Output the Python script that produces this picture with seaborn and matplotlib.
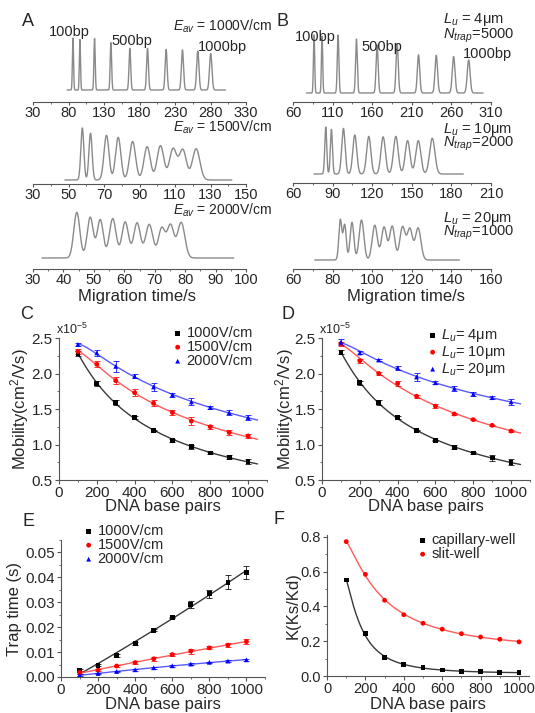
import numpy as np
import pandas as pd
import seaborn as sns
import matplotlib
matplotlib.use("Agg")
import matplotlib.pyplot as plt
from matplotlib.ticker import MultipleLocator, FixedLocator, FormatStrFormatter

W, H = 535, 713

# --- A: electropherograms at different fields (peak centre s, rel. height, width s) ---
a1_pos = [86.3, 96.1, 116.7, 139.7, 166.4, 191.3, 217.5, 240.5, 262.1, 280.3]
a1_amp = [1.0, 0.97, 0.99, 0.91, 0.80, 0.80, 0.78, 0.77, 0.75, 0.70]
a1_sig = [0.8, 0.8, 0.9, 1.0, 1.2, 1.3, 1.4, 1.5, 1.6, 1.7]
a2_pos = [57.8, 62.4, 71.4, 78.0, 86.1, 94.3, 101.8, 108.9, 114.4, 121.9]
a2_amp = [1.0, 0.90, 0.86, 0.82, 0.74, 0.64, 0.66, 0.60, 0.58, 0.60]
a2_sig = [0.85, 0.9, 1.4, 1.5, 1.7, 1.8, 1.9, 2.0, 2.0, 2.1]
a3_pos = [44.4, 48.8, 52.1, 56.2, 60.3, 64.2, 68.2, 72.3, 75.2, 78.7]
a3_amp = [0.95, 0.85, 0.80, 0.82, 0.75, 0.73, 0.70, 0.62, 0.68, 0.74]
a3_sig = [1.0, 1.0, 1.0, 1.1, 1.1, 1.1, 1.2, 1.1, 1.1, 1.2]
a_range = [(78, 301), (48, 142), (33, 96)]
a_fields = ["1000", "1500", "2000"]

# --- B: electropherograms at different trap lengths ---
b1_pos = [86.6, 96.7, 116.9, 140.1, 166.2, 191.5, 218.5, 240.9, 262.8, 281.8]
b1_amp = [1.0, 0.98, 1.0, 0.93, 0.83, 0.85, 0.66, 0.65, 0.63, 0.57]
b1_sig = [0.8, 0.8, 1.0, 1.1, 1.3, 1.4, 1.5, 1.6, 1.7, 1.8]
b2_pos = [84.8, 89.1, 98.2, 106.8, 117.4, 128.3, 137.9, 146.8, 154.9, 165.5]
b2_amp = [1.0, 0.95, 0.97, 0.83, 0.80, 0.79, 0.80, 0.71, 0.71, 0.76]
b2_sig = [0.75, 0.8, 1.3, 1.5, 1.6, 1.7, 1.8, 1.8, 1.9, 2.0]
b3_pos = [83.9, 86.1, 89.8, 94.6, 101.3, 106.0, 110.1, 115.3, 119.0, 123.2]
b3_amp = [0.85, 0.75, 0.80, 0.85, 0.74, 0.70, 0.72, 0.70, 0.66, 0.68]
b3_sig = [0.75, 0.8, 0.95, 1.2, 1.3, 1.3, 1.3, 1.35, 1.35, 1.4]
b_range = [(77, 300), (76, 189), (71, 144)]
b_lu = ["4", "10", "20"]
b_ntrap = ["5000", "2000", "1000"]

# --- C-F: DNA size dependence ---
bp = [100, 200, 300, 400, 500, 600, 700, 800, 900, 1000]

c_1000 = [2.28, 1.86, 1.59, 1.38, 1.20, 1.06, 0.97, 0.88, 0.82, 0.76]
c_1000_err = [0.03, 0.03, 0.03, 0.02, 0.01, 0.02, 0.03, 0.02, 0.03, 0.03]
c_1500 = [2.31, 2.13, 1.90, 1.73, 1.58, 1.45, 1.33, 1.25, 1.17, 1.12]
c_1500_err = [0.03, 0.04, 0.05, 0.05, 0.04, 0.04, 0.06, 0.03, 0.03, 0.03]
c_2000 = [2.41, 2.29, 2.10, 1.96, 1.81, 1.70, 1.60, 1.52, 1.45, 1.38]
c_2000_err = [0.02, 0.04, 0.08, 0.03, 0.05, 0.03, 0.05, 0.02, 0.03, 0.03]

d_4 = [2.30, 1.87, 1.59, 1.38, 1.20, 1.06, 0.96, 0.88, 0.81, 0.75]
d_4_err = [0.03, 0.03, 0.03, 0.02, 0.01, 0.01, 0.03, 0.02, 0.04, 0.04]
d_10 = [2.42, 2.18, 2.00, 1.86, 1.68, 1.54, 1.43, 1.35, 1.27, 1.19]
d_10_err = [0.03, 0.03, 0.02, 0.03, 0.02, 0.03, 0.02, 0.01, 0.01, 0.02]
d_20 = [2.44, 2.29, 2.19, 2.08, 1.95, 1.87, 1.79, 1.71, 1.66, 1.60]
d_20_err = [0.04, 0.02, 0.02, 0.03, 0.06, 0.02, 0.04, 0.03, 0.02, 0.04]

e_1000 = [0.0025, 0.0047, 0.0087, 0.0134, 0.0188, 0.0239, 0.0291, 0.0334, 0.0381, 0.0419]
e_1000_err = [0.0006, 0.0004, 0.0005, 0.0006, 0.0004, 0.0003, 0.0013, 0.0015, 0.0028, 0.0027]
e_1500 = [0.0018, 0.0027, 0.0044, 0.0058, 0.0073, 0.0090, 0.0104, 0.0117, 0.0128, 0.0142]
e_1500_err = [0.0006, 0.0004, 0.0004, 0.0007, 0.0007, 0.0006, 0.0010, 0.0006, 0.0008, 0.0009]
e_2000 = [0.0008, 0.0014, 0.0022, 0.0029, 0.0037, 0.0045, 0.0052, 0.0059, 0.0064, 0.0069]
e_2000_err = [0.0003, 0.0003, 0.0003, 0.0003, 0.0003, 0.0003, 0.0003, 0.0003, 0.0003, 0.0004]

f_cap = [0.552, 0.245, 0.105, 0.066, 0.047, 0.034, 0.028, 0.024, 0.021, 0.019]
f_slit = [0.772, 0.584, 0.435, 0.352, 0.303, 0.269, 0.243, 0.224, 0.211, 0.196]

sns.set_theme(style="ticks")
plt.rcParams["font.family"] = ["Liberation Sans", "DejaVu Sans"]
plt.rcParams["mathtext.fontset"] = "custom"
plt.rcParams["mathtext.rm"] = "Liberation Sans"
plt.rcParams["mathtext.it"] = "Liberation Sans:italic"
plt.rcParams["axes.unicode_minus"] = False

fig = plt.figure(figsize=(W / 100, H / 100), dpi=100)

GREY_TRACE = "#8a8a8a"
SPINE = "#555555"


def px_axes(x0, y0, x1, y1):
    return fig.add_axes([x0 / W, 1 - y1 / H, (x1 - x0) / W, (y1 - y0) / H])


def ftext(x, y, s, **kw):
    fig.text(x / W, 1 - y / H, s, **kw)


def draw_trace(ax, pos, amp, sig, trange, xlim, major, box, base, height):
    t = np.linspace(trange[0], trange[1], 2000)
    sig_y = np.zeros_like(t)
    for p, a, s in zip(pos, amp, sig):
        sig_y += a * np.exp(-(t - p) ** 2 / (2 * s ** 2))
    df = pd.DataFrame({"t": t, "v": sig_y})
    sns.lineplot(data=df, x="t", y="v", ax=ax, color=GREY_TRACE, lw=1.0,
                 estimator=None, sort=False)
    y_top, y_bot = box
    ax.set_ylim(-(y_bot - base) / height, (base - y_top) / height)
    ax.set_xlim(*xlim)
    ax.xaxis.set_major_locator(FixedLocator(np.arange(xlim[0], xlim[1] + 1, major)))
    ax.xaxis.set_minor_locator(FixedLocator(np.arange(xlim[0], xlim[1] + 1, major / 2)))
    ax.set_yticks([])
    for s in ["left", "right", "top"]:
        ax.spines[s].set_visible(False)
    ax.spines["bottom"].set_color(SPINE)
    ax.spines["bottom"].set_linewidth(0.8)
    ax.tick_params(axis="x", which="major", length=2.5, width=0.8, color=SPINE,
                   labelsize=10.5, pad=0.5)
    ax.tick_params(axis="x", which="minor", length=1.5, width=0.6, color=SPINE)
    ax.set_xlabel("")
    ax.set_ylabel("")
    ax.patch.set_alpha(0)


# ---------- panel A ----------
a_sets = [(a1_pos, a1_amp, a1_sig), (a2_pos, a2_amp, a2_sig), (a3_pos, a3_amp, a3_sig)]
a_boxes = [(30, 102), (118, 184), (198, 269)]
a_base = [90, 180, 258]
a_height = [52, 52, 48]
a_xlim = [(30, 330), (30, 150), (30, 100)]
a_major = [50, 20, 10]
for i in range(3):
    ax = px_axes(33, a_boxes[i][0], 246, a_boxes[i][1])
    draw_trace(ax, *a_sets[i], a_range[i], a_xlim[i], a_major[i], a_boxes[i],
               a_base[i], a_height[i])
a_label_y = [26, 127, 210]
for i in range(3):
    ftext(173, a_label_y[i], r"$E_{av}$ = " + a_fields[i] + "V/cm", fontsize=10,
          ha="left", va="center")
ftext(69, 32, "100bp", fontsize=10.5, ha="center", va="center")
ftext(132, 41, "500bp", fontsize=10.5, ha="center", va="center")
ftext(222, 47, "1000bp", fontsize=10.5, ha="center", va="center")
ftext(137, 296, "Migration time/s", fontsize=12, ha="center", va="center")

# ---------- panel B ----------
b_sets = [(b1_pos, b1_amp, b1_sig), (b2_pos, b2_amp, b2_sig), (b3_pos, b3_amp, b3_sig)]
b_boxes = [(30, 102), (118, 183), (198, 269)]
b_base = [93, 174, 260]
b_height = [58, 47, 47]
b_xlim = [(60, 310), (60, 210), (60, 160)]
b_major = [50, 30, 20]
for i in range(3):
    ax = px_axes(293, b_boxes[i][0], 491, b_boxes[i][1])
    draw_trace(ax, *b_sets[i], b_range[i], b_xlim[i], b_major[i], b_boxes[i],
               b_base[i], b_height[i])
b_label_y = [(20, 36), (129, 144), (218, 233)]
for i in range(3):
    ftext(443, b_label_y[i][0], r"$L_u$ = " + b_lu[i] + "μm", fontsize=10.5,
          ha="left", va="center")
    ftext(443, b_label_y[i][1], r"$N_{trap}$=" + b_ntrap[i], fontsize=10.5,
          ha="left", va="center")
ftext(315, 37, "100bp", fontsize=10.5, ha="center", va="center")
ftext(382, 47, "500bp", fontsize=10.5, ha="center", va="center")
ftext(487, 54, "1000bp", fontsize=10.5, ha="center", va="center")
ftext(406, 296, "Migration time/s", fontsize=12, ha="center", va="center")


# ---------- helpers for C-F ----------
def style_xy(ax, xlim, ylim, yticks, yminor, fsize=11):
    ax.set_xlim(*xlim)
    ax.set_ylim(*ylim)
    ax.xaxis.set_major_locator(FixedLocator([0, 200, 400, 600, 800, 1000]))
    ax.xaxis.set_minor_locator(MultipleLocator(100))
    ax.yaxis.set_major_locator(FixedLocator(yticks))
    ax.yaxis.set_minor_locator(MultipleLocator(yminor))
    for s in ["right", "top"]:
        ax.spines[s].set_visible(False)
    for s in ["left", "bottom"]:
        ax.spines[s].set_color(SPINE)
        ax.spines[s].set_linewidth(0.8)
    ax.tick_params(which="major", length=3, width=0.8, color=SPINE, labelsize=fsize,
                   pad=1.5)
    ax.tick_params(which="minor", length=1.5, width=0.6, color=SPINE)
    ax.patch.set_alpha(0)


def fit_line(x, y, x_end, mode, deg):
    x = np.asarray(x, float)
    y = np.asarray(y, float)
    xs = np.linspace(x[0], x_end, 300)
    if mode == "loglog":
        coef = np.polyfit(np.log(x), np.log(y), deg)
        ys = np.exp(np.polyval(coef, np.log(xs)))
    else:
        coef = np.polyfit(x, y, deg)
        ys = np.polyval(coef, xs)
    return xs, ys


def series(ax, y, err, marker, mcol, lcol, label, x_end, mode, deg):
    xs, ys = fit_line(bp, y, x_end, mode, deg)
    sns.lineplot(x=xs, y=ys, ax=ax, color=lcol, lw=1.0, estimator=None, sort=False)
    if err is not None:
        ax.errorbar(bp, y, yerr=err, fmt="none", ecolor=mcol,
                    elinewidth=0.7, capsize=2, capthick=0.7, alpha=0.8)
    sns.scatterplot(x=bp, y=y, ax=ax, marker=marker, color=mcol, s=12,
                    edgecolor="none", label=label, zorder=5)


def legend(ax, left, top, fontsize=10.5):
    ax.legend(loc="upper left", bbox_to_anchor=(left / W, 1 - top / H),
              bbox_transform=fig.transFigure, frameon=False, fontsize=fontsize,
              handlelength=0.5, handletextpad=0.35, labelspacing=0.0,
              borderpad=0, borderaxespad=0, markerscale=1.0)


def labels(ax, box, xl, yl, xlab_y, ylab_x):
    x0, y0, x1, y1 = box
    ax.set_xlabel(xl, fontsize=12)
    ax.set_ylabel(yl, fontsize=12)
    ax.xaxis.set_label_coords(0.5, (y1 - xlab_y) / (y1 - y0))
    ax.xaxis.label.set_va("center")
    ax.yaxis.set_label_coords((ylab_x - x0) / (x1 - x0), 0.5)
    ax.yaxis.label.set_va("center")


BLACK_L, RED_L, BLUE_L = "#3a3a3a", "#ff5a5a", "#5a5aff"
MOB_TICKS = [0.5, 1.0, 1.5, 2.0, 2.5]

# ---------- panel C ----------
box_c = (59, 338, 267, 480)
ax = px_axes(*box_c)
series(ax, c_1000, c_1000_err, "s", "black", BLACK_L, "1000V/cm", 1050, "loglog", 2)
series(ax, c_1500, c_1500_err, "o", "red", RED_L, "1500V/cm", 1050, "loglog", 2)
series(ax, c_2000, c_2000_err, "^", "blue", BLUE_L, "2000V/cm", 1050, "loglog", 2)
style_xy(ax, (0, 1100), (0.5, 2.5), MOB_TICKS, 0.25)
labels(ax, box_c, "DNA base pairs", "Mobility(cm$^2$/Vs)", 507, 20)
legend(ax, 174, 326)
ftext(56, 329, "x10$^{-5}$", fontsize=9, ha="left", va="center")

# ---------- panel D ----------
box_d = (322, 338, 530, 480)
ax = px_axes(*box_d)
series(ax, d_4, d_4_err, "s", "black", BLACK_L, r"$L_u$= 4μm", 1050, "loglog", 2)
series(ax, d_10, d_10_err, "o", "red", RED_L, r"$L_u$= 10μm", 1050, "loglog", 2)
series(ax, d_20, d_20_err, "^", "blue", BLUE_L, r"$L_u$= 20μm", 1050, "loglog", 2)
style_xy(ax, (0, 1100), (0.5, 2.5), MOB_TICKS, 0.25)
labels(ax, box_d, "DNA base pairs", "Mobility(cm$^2$/Vs)", 507, 285)
legend(ax, 429, 327)
ftext(319, 329, "x10$^{-5}$", fontsize=9, ha="left", va="center")

# ---------- panel E ----------
box_e = (61, 540, 265, 677)
ax = px_axes(*box_e)
series(ax, e_1000, e_1000_err, "s", "black", BLACK_L, "1000V/cm", 1000, "lin", 2)
series(ax, e_1500, e_1500_err, "o", "red", RED_L, "1500V/cm", 1000, "lin", 2)
series(ax, e_2000, e_2000_err, "^", "blue", BLUE_L, "2000V/cm", 1000, "lin", 2)
style_xy(ax, (0, 1100), (0, 0.055), [0, 0.01, 0.02, 0.03, 0.04, 0.05], 0.005)
ax.yaxis.set_major_formatter(FormatStrFormatter("%.2f"))
labels(ax, box_e, "DNA base pairs", "Trap time (s)", 704, 15)
legend(ax, 85, 524)

# ---------- panel F ----------
box_f = (327, 535, 529, 676)
ax = px_axes(*box_f)
series(ax, f_cap, None, "s", "black", BLACK_L, "capillary-well", 1000, "loglog", 3)
series(ax, f_slit, None, "o", "red", RED_L, "slit-well", 1000, "loglog", 3)
style_xy(ax, (0, 1052), (0, 0.81), [0, 0.2, 0.4, 0.6, 0.8], 0.1, fsize=10.5)
ax.yaxis.set_major_formatter(FormatStrFormatter("%.1f"))
labels(ax, box_f, "DNA base pairs", "K(Ks/Kd)", 704, 293)
legend(ax, 419, 533)

# panel letters
for letter, (x, y) in zip("ABCDEF", [(28, 22), (282, 22), (27, 314), (288, 314),
                                    (28, 521), (279, 519)]):
    ftext(x, y, letter, fontsize=13, ha="center", va="center")

fig.savefig("out.png", dpi=100)
